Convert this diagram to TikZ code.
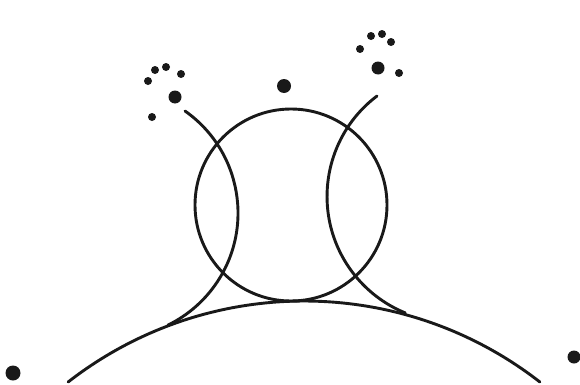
\documentclass[tikz,border=0pt]{standalone}
\begin{document}
\begin{tikzpicture}[x=1pt,y=1pt,
  curve/.style={line width=2.9pt,line cap=round,black!90},
  dotmark/.style={fill=black!90}]
\useasboundingbox (0,0) rectangle (580,384);
\fill[white] (0,0) rectangle (580,384);
% central circle
\draw[curve] (291,179) circle[radius=96];
% left arc
\draw[curve] (185,273) arc[start angle=54.9,end angle=-64,radius=124.7];
% right arc
\draw[curve] (377,288) arc[start angle=127.1,end angle=247.8,radius=125.9];
% big bottom arc
\draw[curve] (304,-301) ++(127.9:384) arc[start angle=127.9,end angle=52.1,radius=384];
% left cluster
\fill[dotmark] (155,314) circle[radius=4];
\fill[dotmark] (166,317) circle[radius=4];
\fill[dotmark] (181,310) circle[radius=4];
\fill[dotmark] (148,303) circle[radius=4];
\fill[dotmark] (175,287) circle[radius=6.5];
\fill[dotmark] (152,267) circle[radius=4];
% right cluster
\fill[dotmark] (371,348) circle[radius=4];
\fill[dotmark] (382,350) circle[radius=4];
\fill[dotmark] (391,342) circle[radius=4];
\fill[dotmark] (360,335) circle[radius=4];
\fill[dotmark] (378,316) circle[radius=6.5];
\fill[dotmark] (399,311) circle[radius=4];
% middle dot
\fill[dotmark] (284,298) circle[radius=7];
% corner dots
\fill[dotmark] (13,11) circle[radius=7.5];
\fill[dotmark] (574,27) circle[radius=6.5];
\end{tikzpicture}
\end{document}
